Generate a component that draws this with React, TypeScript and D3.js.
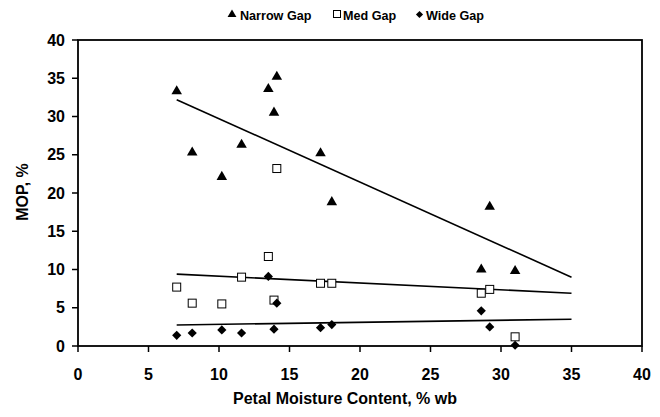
import React from "react";
import * as d3 from "d3";

const moisture = [7.0, 8.1, 10.2, 11.6, 13.5, 13.9, 14.1, 17.2, 18.0, 28.6, 29.2, 31.0];
const narrowGap = [33.3, 25.3, 22.1, 26.3, 33.6, 30.5, 35.2, 25.2, 18.8, 10.0, 18.2, 9.8];
const medGap = [7.7, 5.6, 5.5, 9.0, 11.7, 6.0, 23.2, 8.2, 8.2, 6.9, 7.4, 1.2];
const wideGap = [1.4, 1.7, 2.1, 1.7, 9.1, 2.2, 5.6, 2.4, 2.8, 4.6, 2.5, 0.1];

const trendX = [7, 35];
const narrowTrend = [32.2, 9.0];
const medTrend = [9.4, 6.9];
const wideTrend = [2.75, 3.5];

const xTicks = [0, 5, 10, 15, 20, 25, 30, 35, 40];
const yTicks = [0, 5, 10, 15, 20, 25, 30, 35, 40];

const W = 660;
const H = 417;
const left = 78;
const right = 642;
const top = 40;
const bottom = 346;
const font = "'Liberation Sans', Arial, sans-serif";

const diamondPath = (r: number) => `M0,${-r}L${r},0L0,${r}L${-r},0Z`;

export default function App() {
  const x = d3.scaleLinear().domain([0, 40]).range([left, right]);
  const y = d3.scaleLinear().domain([0, 40]).range([bottom, top]);
  const line = d3
    .line<[number, number]>()
    .x((d) => x(d[0]))
    .y((d) => y(d[1]));

  const tri = d3.symbol().type(d3.symbolTriangle).size(48)() as string;
  const dia = diamondPath(4.6);

  const trends = [narrowTrend, medTrend, wideTrend];

  return (
    <svg
      width={W}
      height={H}
      style={{ position: "absolute", left: 0, top: 0, background: "#fff" }}
      fontFamily={font}
    >
      <rect x={0} y={0} width={W} height={H} fill="#fff" />
      {/* legend */}
      <g fontSize={12.6} fontWeight="bold" fill="#000">
        <path d={d3.symbol().type(d3.symbolTriangle).size(34)() as string} transform="translate(232,14.5)" fill="#000" />
        <text x={240} y={19.5}>Narrow Gap</text>
        <rect x={333.5} y={10.5} width={7} height={7} fill="#fff" stroke="#000" strokeWidth={1} />
        <text x={343} y={19.5}>Med Gap</text>
        <path d={diamondPath(3.6)} transform="translate(419.5,14.5)" fill="#000" />
        <text x={426} y={19.5}>Wide Gap</text>
      </g>

      {/* frame */}
      <rect x={left} y={top} width={right - left} height={bottom - top} fill="none" stroke="#000" strokeWidth={1.8} />

      {/* ticks */}
      <g fontSize={16} fontWeight="bold">
        {yTicks.map((t) => (
          <g key={"y" + t}>
            <line x1={left - 6} x2={left} y1={y(t)} y2={y(t)} stroke="#000" strokeWidth={1.5} />
            <text x={left - 13} y={y(t) + 5.5} textAnchor="end">
              {t}
            </text>
          </g>
        ))}
        {xTicks.map((t) => (
          <g key={"x" + t}>
            <line x1={x(t)} x2={x(t)} y1={bottom} y2={bottom + 6} stroke="#000" strokeWidth={1.5} />
            <text x={x(t)} y={bottom + 34} textAnchor="middle">
              {t}
            </text>
          </g>
        ))}
      </g>

      {/* axis titles */}
      <text x={345} y={403.5} textAnchor="middle" fontSize={16} fontWeight="bold">
        Petal Moisture Content, % wb
      </text>
      <text
        transform={`translate(28,192) rotate(-90)`}
        textAnchor="middle"
        fontSize={16}
        fontWeight="bold"
      >
        MOP, %
      </text>

      {/* trend lines */}
      {trends.map((tr, i) => (
        <path
          key={"t" + i}
          d={line(trendX.map((xx, j) => [xx, tr[j]] as [number, number])) as string}
          fill="none"
          stroke="#000"
          strokeWidth={1.6}
        />
      ))}

      {/* med squares */}
      {moisture.map((m, i) => (
        <rect
          key={"m" + i}
          x={x(m) - 4}
          y={y(medGap[i]) - 4}
          width={8}
          height={8}
          fill="#fff"
          stroke="#000"
          strokeWidth={1}
        />
      ))}
      {/* wide diamonds */}
      {moisture.map((m, i) => (
        <path key={"w" + i} d={dia} transform={`translate(${x(m)},${y(wideGap[i])})`} fill="#000" />
      ))}
      {/* narrow triangles */}
      {moisture.map((m, i) => (
        <path key={"n" + i} d={tri} transform={`translate(${x(m)},${y(narrowGap[i])})`} fill="#000" />
      ))}
    </svg>
  );
}
